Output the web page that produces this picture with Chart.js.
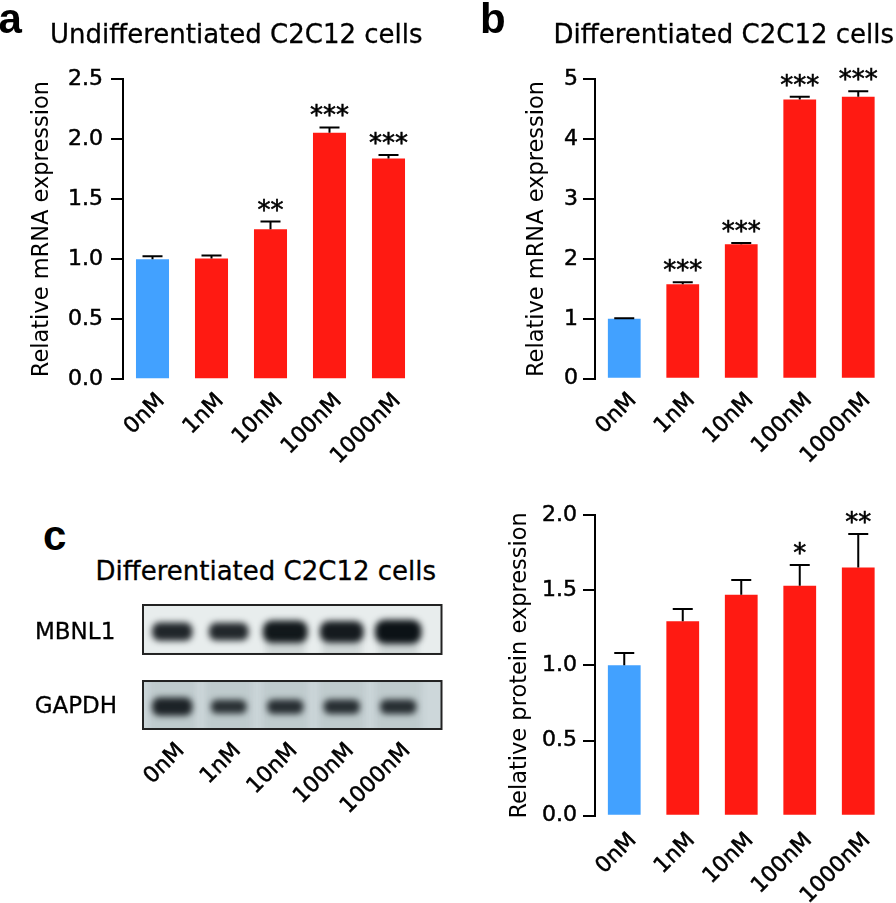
<!DOCTYPE html>
<html>
<head>
<meta charset="utf-8">
<script src="https://cdn.jsdelivr.net/npm/chart.js@4.4.1/dist/chart.umd.min.js"></script>
<style>
    body { margin: 0; background: #fff; width: 896px; height: 903px; position: relative; overflow: hidden; font-family: "DejaVu Sans", sans-serif; }
    canvas { position: absolute; }
    .t { position: absolute; white-space: nowrap; line-height: 1; color: #000; -webkit-text-stroke: 0.3px #000; }
    .ttl { font-size: 26px; }
    .let { font-family: "Liberation Sans", Arial, sans-serif; font-weight: bold; font-size: 42px; -webkit-text-stroke: 0; }
    .row { font-size: 23px; }
</style>
</head>
<body>
<canvas id="chartA" style="left:0;top:0" width="445" height="470"></canvas>
<canvas id="chartB" style="left:450px;top:0" width="446" height="470"></canvas>
<canvas id="blot" style="left:0;top:590px" width="450" height="230"></canvas>
<canvas id="chartD" style="left:450px;top:480px" width="446" height="423"></canvas>

<div class="t let" style="left:-1.6px;top:-2.5px">a</div>
<div class="t ttl" style="left:50px;top:21px">Undifferentiated C2C12 cells</div>
<div class="t let" style="left:480px;top:-2.5px">b</div>
<div class="t ttl" style="left:553.5px;top:21px">Differentiated C2C12 cells</div>
<div class="t let" style="left:43px;top:514.5px">c</div>
<div class="t ttl" style="left:95.5px;top:558px">Differentiated C2C12 cells</div>
<div class="t row" style="left:35px;top:619.5px">MBNL1</div>
<div class="t row" style="left:34.7px;top:693.5px">GAPDH</div>

<script>
// doses shared by every panel
const doses = ['0nM', '1nM', '10nM', '100nM', '1000nM'];

// a: undifferentiated, mRNA
const undiffMean = [1.00, 1.005, 1.25, 2.052, 1.838];
const undiffSem = [0.025, 0.025, 0.063, 0.045, 0.029];
const undiffStars = ['', '', '**', '***', '***'];

// b: differentiated, mRNA
const diffMean = [1.00, 1.576, 2.244, 4.664, 4.71];
const diffSem = [0.008, 0.034, 0.021, 0.046, 0.09];
const diffStars = ['', '***', '***', '***', '***'];

// c (right): differentiated, protein
const proteinMean = [1.00, 1.293, 1.47, 1.53, 1.65];
const proteinSem = [0.082, 0.082, 0.098, 0.138, 0.224];
const proteinStars = ['', '', '', '*', '**'];

// blot band darkness per lane
const mbnl1Density = [0.82, 0.8, 0.95, 0.92, 1.0];
const gapdhDensity = [0.82, 0.68, 0.7, 0.7, 0.7];

const BLUE = '#42a1ff';
const RED = '#ff1a12';
const tickFont = { family: 'DejaVu Sans', size: 22 };

const errorBarPlugin = {
    id: 'errorBars',
    afterDatasetsDraw(chart, args, opts) {
        const ctx = chart.ctx;
        const yScale = chart.scales.y;
        const values = chart.data.datasets[0].data;
        ctx.save();
        ctx.strokeStyle = '#000';
        ctx.fillStyle = '#000';
        ctx.lineWidth = 2;
        ctx.font = '26px "DejaVu Sans"';
        ctx.textAlign = 'center';
        ctx.textBaseline = 'alphabetic';
        chart.getDatasetMeta(0).data.forEach((bar, i) => {
            const base = yScale.getPixelForValue(values[i]);
            const top = yScale.getPixelForValue(values[i] + opts.errors[i]);
            ctx.beginPath();
            ctx.moveTo(bar.x, base);
            ctx.lineTo(bar.x, top);
            ctx.moveTo(bar.x - 10, top);
            ctx.lineTo(bar.x + 10, top);
            ctx.stroke();
            if (opts.stars[i]) {
                ctx.lineWidth = 0.6;
                ctx.strokeText(opts.stars[i], bar.x, top - 3);
                ctx.fillText(opts.stars[i], bar.x, top - 3);
                ctx.lineWidth = 2;
            }
        });
        ctx.restore();
    }
};

function makeBarChart(id, means, sems, stars, yMax, yStep, decimals, yTitle, geo) {
    return new Chart(document.getElementById(id), {
        type: 'bar',
        data: {
            labels: doses,
            datasets: [{
                data: means,
                backgroundColor: means.map((v, i) => i === 0 ? BLUE : RED),
                barPercentage: 0.56,
                categoryPercentage: 1
            }]
        },
        options: {
            responsive: false,
            animation: false,
            devicePixelRatio: 1,
            layout: { padding: { left: 0, top: geo.top, right: geo.right, bottom: 0 } },
            plugins: {
                legend: { display: false },
                tooltip: { enabled: false },
                errorBars: { errors: sems, stars: stars }
            },
            scales: {
                x: {
                    grid: { display: false },
                    border: { display: false },
                    ticks: { color: '#000', font: tickFont, minRotation: 45, maxRotation: 45, autoSkip: false, padding: geo.xPad, labelOffset: 9, textStrokeColor: '#000', textStrokeWidth: 0.5 },
                    afterFit: s => { s.height = geo.xHeight; }
                },
                y: {
                    min: 0,
                    max: yMax,
                    ticks: { stepSize: yStep, color: '#000', font: tickFont, padding: geo.yPad, callback: v => v.toFixed(decimals), textStrokeColor: '#000', textStrokeWidth: 0.5 },
                    grid: { drawOnChartArea: false, color: '#000', lineWidth: 2, tickLength: 12 },
                    border: { color: '#000', width: 2 },
                    title: { display: true, text: yTitle, color: '#000', font: { family: 'DejaVu Sans', size: 22.5 }, padding: { top: geo.titlePad, bottom: 0 } },
                    afterFit: s => { s.width = geo.yWidth; }
                }
            }
        },
        plugins: [errorBarPlugin]
    });
}

makeBarChart('chartA', undiffMean, undiffSem, undiffStars, 2.5, 0.5, 1, 'Relative mRNA expression',
    { top: 79, right: 27, xHeight: 90.7, xPad: 1, yPad: 8, yWidth: 123, titlePad: 28.5 });
makeBarChart('chartB', diffMean, diffSem, diffStars, 5, 1, 0, 'Relative mRNA expression',
    { top: 79.3, right: 8.5, xHeight: 91.3, xPad: 1, yPad: 5, yWidth: 145, titlePad: 73.5 });
makeBarChart('chartD', proteinMean, proteinSem, proteinStars, 2, 0.5, 1, 'Relative protein expression',
    { top: 35, right: 8.5, xHeight: 87.3, xPad: 4, yPad: 6, yWidth: 145, titlePad: 56.5 });

// western blot: two strips, one band per lane, lanes taken from the category scale
const blotPlugin = {
    id: 'blot',
    beforeDatasetsDraw(chart) {
        const ctx = chart.ctx;
        const xs = chart.scales.x;
        const ys = chart.scales.y;
        const area = chart.chartArea;
        const laneW = xs.getPixelForValue(1) - xs.getPixelForValue(0);
        const boxL = area.left - 1;
        const boxR = area.right + 15;
        const strips = [
            { lo: 0.605, hi: 1.0, center: 0.785, bg: '#e8eded', dens: mbnl1Density, lanes: false },
            { lo: 0.0, hi: 0.387, center: 0.18, bg: '#cdd7da', dens: gapdhDensity, lanes: true }
        ];
        strips.forEach(st => {
            const top = ys.getPixelForValue(st.hi);
            const bot = ys.getPixelForValue(st.lo);
            ctx.save();
            ctx.beginPath();
            ctx.rect(boxL, top, boxR - boxL, bot - top);
            ctx.clip();
            ctx.fillStyle = st.bg;
            ctx.fillRect(boxL, top, boxR - boxL, bot - top);
            st.dens.forEach((d, i) => {
                const cx = xs.getPixelForValue(i);
                const cy = ys.getPixelForValue(st.center);
                ctx.filter = 'blur(3px)';
                if (st.lanes) {
                    ctx.fillStyle = 'rgba(40,60,70,0.08)';
                    ctx.fillRect(cx - laneW * 0.42, top - 5, laneW * 0.84, bot - top + 10);
                } else if (d > 0.9) {
                    // faint smear under the strong bands
                    ctx.fillStyle = 'rgba(40,55,60,0.12)';
                    ctx.fillRect(cx - laneW * 0.35, cy, laneW * 0.7, bot - cy + 5);
                }
                const w = laneW * (0.22 + 0.6 * d);
                const h = 32 * d - 8;
                ctx.fillStyle = 'rgba(12,18,22,' + (0.5 + 0.5 * d) + ')';
                ctx.beginPath();
                ctx.roundRect(cx - w / 2, cy - h / 2, w, h, h / 2.5);
                ctx.fill();
                ctx.filter = 'none';
            });
            ctx.restore();
            ctx.save();
            ctx.strokeStyle = '#222';
            ctx.lineWidth = 2;
            ctx.strokeRect(boxL, top, boxR - boxL, bot - top);
            ctx.restore();
        });
    }
};

new Chart(document.getElementById('blot'), {
    type: 'bar',
    data: { labels: doses, datasets: [{ data: [] }] },
    options: {
        responsive: false,
        animation: false,
        devicePixelRatio: 1,
        layout: { padding: { left: 144, top: 15, right: 23.5, bottom: 0 } },
        plugins: { legend: { display: false }, tooltip: { enabled: false } },
        scales: {
            x: {
                grid: { display: false },
                border: { display: false },
                ticks: { color: '#000', font: tickFont, minRotation: 45, maxRotation: 45, autoSkip: false, padding: 1, labelOffset: 9, textStrokeColor: '#000', textStrokeWidth: 0.5 },
                afterFit: s => { s.height = 91; }
            },
            y: { display: false, min: 0, max: 1 }
        }
    },
    plugins: [blotPlugin]
});
</script>
</body>
</html>
